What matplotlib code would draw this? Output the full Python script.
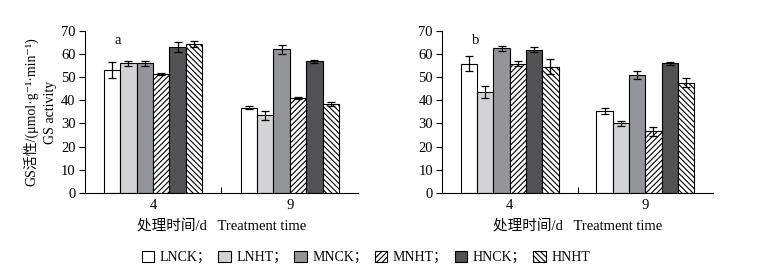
import numpy as np
import matplotlib
matplotlib.use("Agg")
import matplotlib.pyplot as plt
from matplotlib.patches import Patch

plt.rcParams['font.family'] = ['Liberation Serif', 'Noto Sans CJK SC', 'DejaVu Sans']
plt.rcParams['hatch.linewidth'] = 0.8

# data
days = ['4', '9']
treatments = ['LNCK', 'LNHT', 'MNCK', 'MNHT', 'HNCK', 'HNHT']

a_vals = [[53.0, 56.0, 56.0, 51.4, 63.0, 64.5],
          [36.9, 33.5, 62.0, 40.9, 56.8, 38.6]]
a_errs = [[3.4, 1.0, 1.0, 0.3, 2.0, 1.3],
          [0.8, 1.8, 2.1, 0.4, 0.5, 0.9]]

b_vals = [[55.9, 43.4, 62.4, 55.9, 61.9, 54.6],
          [35.2, 30.0, 51.1, 26.6, 56.0, 47.7]]
b_errs = [[3.4, 2.6, 1.2, 1.1, 1.1, 3.4],
          [1.3, 0.9, 1.7, 2.1, 0.7, 2.1]]

colors = ['white', '#d3d3d5', '#939598', 'white', '#525254', 'white']
hatches = [None, None, None, '//////', None, '\\\\\\\\\\\\']

fig = plt.figure(figsize=(7.7, 2.71), dpi=100)
ax_a = fig.add_axes([0.110, 0.288, 0.355, 0.598])
ax_b = fig.add_axes([0.574, 0.288, 0.352, 0.598])

width = 0.12
x = np.arange(len(days))


def draw(ax, vals, errs, letter):
    vals = np.array(vals)
    errs = np.array(errs)
    for i, t in enumerate(treatments):
        pos = x + (i - 2.5) * width
        ax.bar(pos, vals[:, i], width, color=colors[i], hatch=hatches[i],
               edgecolor='black', linewidth=0.8, zorder=2)
        ax.errorbar(pos, vals[:, i], yerr=errs[:, i], fmt='none', ecolor='black',
                    elinewidth=0.9, capsize=3, capthick=0.9, zorder=3)
    ax.set_xlim(-0.5, 1.5)
    ax.set_ylim(0, 70)
    ax.set_yticks(range(0, 71, 10))
    ax.set_xticks(x)
    ax.set_xticklabels(days)
    ax.set_xticks([0.5], minor=True)
    ax.tick_params(axis='x', which='major', length=0, labelsize=10.5, pad=4)
    ax.tick_params(axis='x', which='minor', direction='in', length=4, width=0.8)
    ax.tick_params(axis='y', direction='out', length=4.5, width=0.8, labelsize=10.5, pad=2)
    for s in ['top', 'right']:
        ax.spines[s].set_visible(False)
    for s in ['left', 'bottom']:
        ax.spines[s].set_linewidth(0.8)
    ax.set_xlabel('处理时间/d   Treatment time', fontsize=10.5, labelpad=6)
    ax.text(0.11, 0.98, letter, transform=ax.transAxes, fontsize=10.5, va='top')


draw(ax_a, a_vals, a_errs, 'a')
draw(ax_b, b_vals, b_errs, 'b')

ax_a.set_ylabel('GS活性/(μmol·g⁻¹·min⁻¹)\nGS activity', fontsize=10,
                linespacing=1.6, labelpad=3)

handles = [Patch(facecolor=colors[i], edgecolor='black', hatch=hatches[i], linewidth=0.8)
           for i in range(len(treatments))]
labels = [t + '；' if i < len(treatments) - 1 else t for i, t in enumerate(treatments)]
fig.legend(handles, labels, loc='center', bbox_to_anchor=(0.475, 0.05), ncol=6,
           frameon=False, fontsize=10, handlelength=0.9, handleheight=0.9,
           handletextpad=0.4, columnspacing=0.5)

fig.savefig('out.png', dpi=100)
